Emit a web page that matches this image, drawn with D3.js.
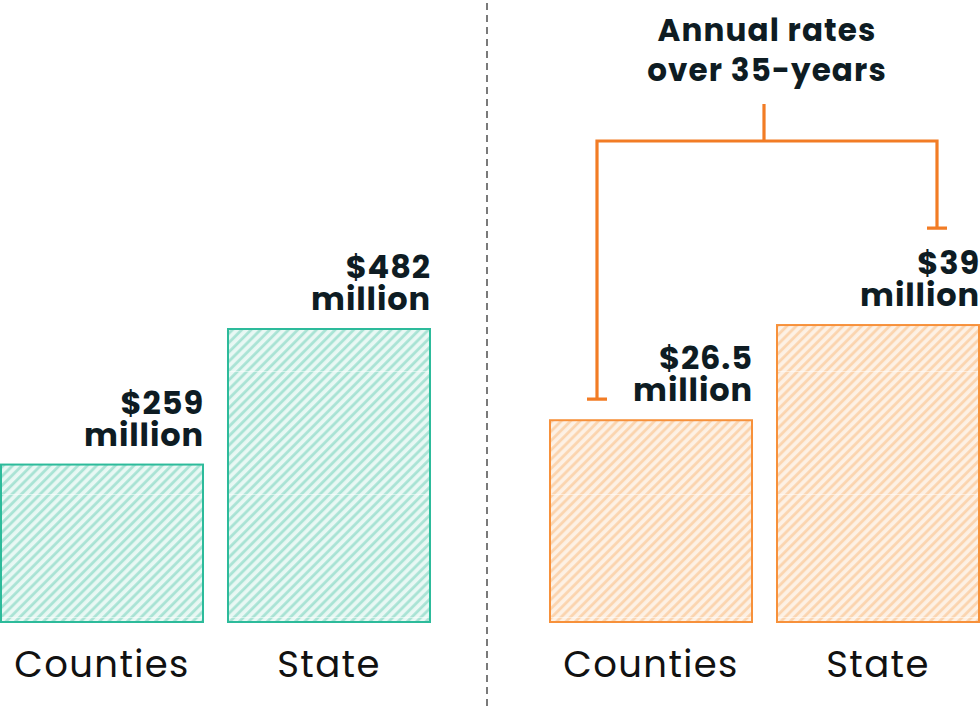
<!DOCTYPE html>
<html>
<head>
<meta charset="utf-8">
<script src="https://cdn.jsdelivr.net/npm/d3@7"></script>
<style>
  html, body { margin: 0; padding: 0; background: #fff; }
  svg { display: block; }
  text { font-family: "Poppins", "Inter", "Noto Sans", sans-serif; }
</style>
</head>
<body>
<svg id="chart" width="980" height="725"></svg>
<script>
// ---- data ----
const categories = ["Counties", "State"];
const totalValues = [259, 482];          // $ million, total
const annualValues = [26.5, 39];         // $ million, annual rates over 35 years
const totalLabels = ["$259", "$482"];
const annualLabels = ["$26.5", "$39"];
const unitLabel = "million";
const annotationLines = ["Annual rates", "over 35-years"];

const svg = d3.select("#chart");
const baseY = 622;

const textDark = "#0e1c23";
const teal = { stroke: "#2dbb9b", fill: "#e9f8f4", stripe: "#a8e3d4" };
const orange = { stroke: "#f7913b", fill: "#fdf1e5", stripe: "#fbd4ae" };
const bracketColor = "#f27c25";

// patterns
const defs = svg.append("defs");
function hatch(id, c) {
  const p = defs.append("pattern")
    .attr("id", id).attr("patternUnits", "userSpaceOnUse")
    .attr("width", 6.6).attr("height", 6.6)
    .attr("patternTransform", "rotate(45)");
  p.append("rect").attr("width", 6.6).attr("height", 6.6).attr("fill", c.fill);
  p.append("line").attr("x1", 1.6).attr("x2", 1.6).attr("y1", 0).attr("y2", 6.6)
    .attr("stroke", c.stripe).attr("stroke-width", 2.8);
}
hatch("hatch-teal", teal);
hatch("hatch-orange", orange);

function panel(values, labels, x0, x1, yMax, yTop, col, patId) {
  const x = d3.scaleBand().domain(categories).range([x0, x1])
    .paddingInner(0.1013).paddingOuter(0);
  const y = d3.scaleLinear().domain([0, yMax]).range([baseY, yTop]);
  const g = svg.append("g");
  const data = categories.map((c, i) => ({ c, v: values[i], l: labels[i] }));

  g.selectAll("rect.bar").data(data).join("rect")
    .attr("class", "bar")
    .attr("x", d => x(d.c) + 1)
    .attr("y", d => y(d.v))
    .attr("width", x.bandwidth() - 2)
    .attr("height", d => baseY - y(d.v))
    .attr("fill", `url(#${patId})`)
    .attr("stroke", col.stroke)
    .attr("stroke-width", 2);

  // faint white grid lines showing through the bars
  const gridVals = [5, 128, 251].map(px => y.invert(baseY - px));
  data.forEach(d => {
    gridVals.filter(v => v < d.v).forEach(v => {
      g.append("line")
        .attr("x1", x(d.c) + 2).attr("x2", x(d.c) + x.bandwidth() - 2)
        .attr("y1", Math.round(y(v)) + 0.5).attr("y2", Math.round(y(v)) + 0.5)
        .attr("stroke", "#fff").attr("stroke-opacity", 0.5).attr("stroke-width", 1);
    });
  });

  // value labels (two lines, right-aligned to the bar edge)
  const common = sel => sel
    .attr("text-anchor", "end")
    .attr("x", d => x(d.c) + x.bandwidth())
    .attr("fill", textDark)
    .attr("font-weight", 700)
    .attr("font-size", 32)
    .attr("letter-spacing", 0.9);
  g.selectAll("text.val").data(data).join("text")
    .attr("class", "val").call(common)
    .attr("y", d => y(d.v) - 51).text(d => d.l);
  g.selectAll("text.unit").data(data).join("text")
    .attr("class", "unit").call(common)
    .attr("y", d => y(d.v) - 19).text(unitLabel);

  // category axis labels
  const axis = d3.axisBottom(x).tickSize(0).tickPadding(0);
  const ax = g.append("g").attr("transform", `translate(0,${baseY})`).call(axis);
  ax.select(".domain").remove();
  ax.selectAll("text")
    .attr("y", 55).attr("dy", 0)
    .attr("font-size", 37)
    .attr("letter-spacing", 1.4)
    .attr("font-family", "Poppins, Inter, 'Noto Sans', sans-serif")
    .attr("fill", "#111");
  return { x, y };
}

const left = panel(totalValues, totalLabels, 0, 431, 482, 329, teal, "hatch-teal");
const right = panel(annualValues, annualLabels, 549, 980, 39.4, 322, orange, "hatch-orange");

// divider
svg.append("line")
  .attr("x1", 487).attr("x2", 487).attr("y1", 3).attr("y2", 708)
  .attr("stroke", "#7a7a7a").attr("stroke-width", 2)
  .attr("stroke-dasharray", "7,5");

// bracket annotation
const lx = 597, rx = 937, midX = 764;
const topY = 141;
const leftEnd = right.y(annualValues[0]) - 21;
const rightEnd = right.y(annualValues[1]) - 97;
const bracket = svg.append("g").attr("fill", "none")
  .attr("stroke", bracketColor).attr("stroke-width", 3.2);
bracket.append("path")
  .attr("d", `M${midX},104 V${topY} M${lx},${leftEnd} V${topY} H${rx} V${rightEnd}`);
bracket.append("path")
  .attr("d", `M${lx - 10},${leftEnd} H${lx + 10} M${rx - 10},${rightEnd} H${rx + 10}`);

svg.selectAll("text.title").data(annotationLines).join("text")
  .attr("class", "title")
  .attr("text-anchor", "middle").attr("fill", textDark)
  .attr("font-weight", 700).attr("font-size", 31)
  .attr("letter-spacing", 1.1)
  .attr("x", 767).attr("y", (d, i) => 41 + i * 40)
  .text(d => d);
</script>
</body>
</html>
